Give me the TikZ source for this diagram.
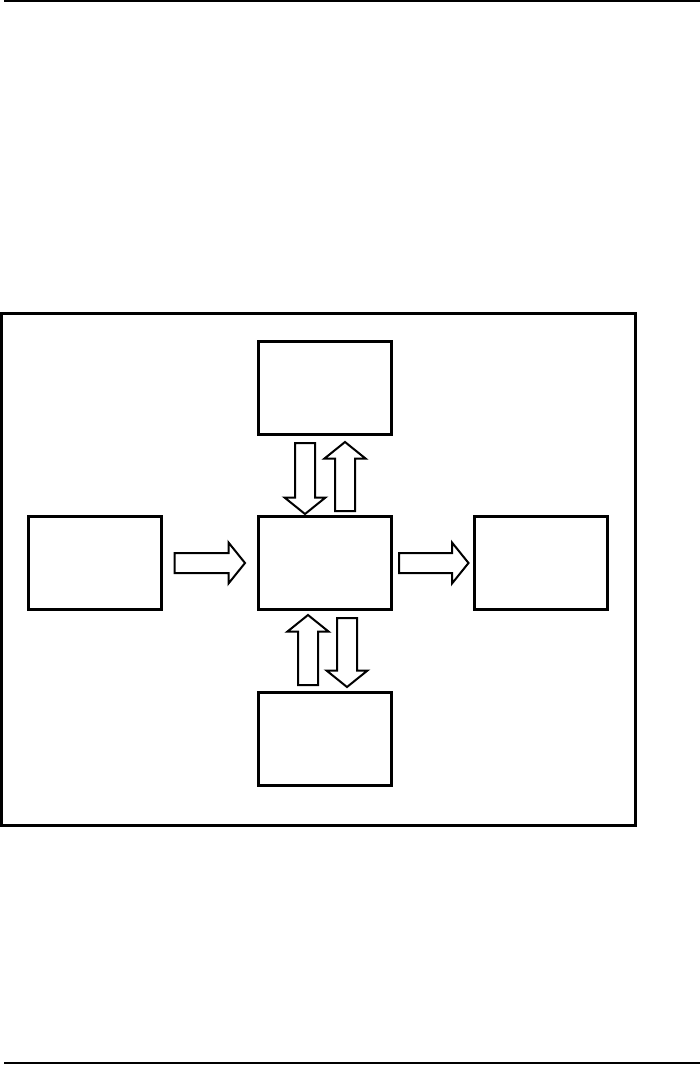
\documentclass[tikz,border=0pt]{standalone}
\usetikzlibrary{calc}
\tikzset{
  box/.style={draw, line width=3pt, minimum width=133pt, minimum height=93pt, inner sep=0pt, outer sep=0pt},
  rule/.style={line width=2.5pt},
  frame/.style={line width=3pt},
  barrow/.style={draw, line width=2pt, line join=miter,
    to path={
      let \p1=(\tikztostart), \p2=(\tikztotarget),
          \n1={veclen(\x2-\x1,\y2-\y1)},
          \n2={(\x2-\x1)/\n1}, \n3={(\y2-\y1)/\n1},
          \n4={\n1/1pt-16.5}
      in
      ({\x1+(-10*-\n3)*1pt},{\y1+(-10*\n2)*1pt})
      -- ({\x1+(\n4*\n2-10*-\n3)*1pt},{\y1+(\n4*\n3-10*\n2)*1pt})
      -- ({\x1+(\n4*\n2-20.5*-\n3)*1pt},{\y1+(\n4*\n3-20.5*\n2)*1pt})
      -- (\tikztotarget)
      -- ({\x1+(\n4*\n2+20.5*-\n3)*1pt},{\y1+(\n4*\n3+20.5*\n2)*1pt})
      -- ({\x1+(\n4*\n2+10*-\n3)*1pt},{\y1+(\n4*\n3+10*\n2)*1pt})
      -- ({\x1+(10*-\n3)*1pt},{\y1+(10*\n2)*1pt})
      -- cycle
    }}
}
\begin{document}
\begin{tikzpicture}[x=1pt,y=-1pt]
\useasboundingbox (0,0) rectangle (700,1066);
% horizontal rules
\coordinate (tl) at (4,1);
\coordinate (tr) at (700,1);
\coordinate (bl) at (4,1063);
\coordinate (br) at (700,1063);
\draw[rule] (tl) -- (tr);
\draw[rule] (bl) -- (br);
% frame
\coordinate (f1) at (1.5,313.5);
\coordinate (f2) at (635,825);
\draw[frame] (f1) rectangle (f2);
% boxes
\node[box] (top) at (324.5,387.5) {};
\node[box] (left) at (95,562.5) {};
\node[box] (center) at (324.5,562.5) {};
\node[box] (right) at (541,562.5) {};
\node[box] (bottom) at (324.5,738.5) {};
% block arrows
\draw[barrow] ($(left.east)+(13,0.5)$) to ($(center.west)+(-13,0.5)$);
\draw[barrow] ($(center.east)+(8,0.5)$) to ($(right.west)+(-6,0.5)$);
\draw[barrow] ($(top.south)+(-19.5,9)$) to ($(center.north)+(-19.5,-2)$);
\draw[barrow] ($(center.north)+(20.5,-5)$) to ($(top.south)+(20.5,8)$);
\draw[barrow] ($(bottom.north)+(-16.5,-7)$) to ($(center.south)+(-16.5,6)$);
\draw[barrow] ($(center.south)+(22.5,9)$) to ($(bottom.north)+(22.5,-5)$);
\end{tikzpicture}
\end{document}
